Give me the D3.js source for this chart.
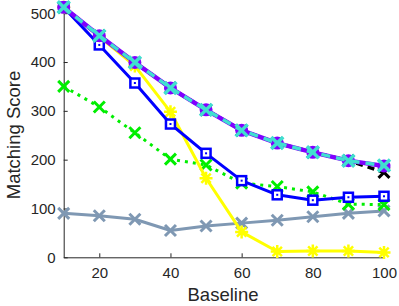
<!DOCTYPE html>
<html><head><meta charset="utf-8">
<script src="https://cdn.jsdelivr.net/npm/d3@7/dist/d3.min.js"></script>
<style>body{margin:0;background:#fff}svg{display:block}text{font-family:"Liberation Sans",Arial,sans-serif;fill:#262626}</style>
</head><body><svg id="c" width="399" height="306"></svg>
<script>
const baseline = [10,20,30,40,50,60,70,80,90,100];
const xTicks = [20,40,60,80,100];
const yTicks = [0,100,200,300,400,500];
const grayVals   = [90,85,78,55,64,70,76,83,90,95];
const greenVals  = [350,308,255,201,189,152,145,134,109,108];
const yellowVals = [512,452,392,298,162,52,12,13,13,10];
const blueVals   = [512,435,357,273,213,157,128,117,123,125];
const blackVals  = [512,454,399,347,302,260,234,215,198,174];
const purpleVals = [512,454,399,347,302,260,234,215,198,187];
const cyanVals   = [512,454,399,347,302,260,234,215,198,188];

const svg = d3.select("#c");
const x = d3.scaleLinear().domain([10,100]).range([63.7,384]);
const y = d3.scaleLinear().domain([0,525]).range([257.3,1]);

const gx = svg.append("g").attr("transform","translate(0,257.3)")
  .call(d3.axisBottom(x).tickValues(xTicks).tickSizeInner(-4).tickSizeOuter(0).tickPadding(10));
const gy = svg.append("g").attr("transform","translate(63.7,0)")
  .call(d3.axisLeft(y).tickValues(yTicks).tickSizeInner(-4).tickSizeOuter(0).tickPadding(8));
[gx,gy].forEach(g=>{
  g.select(".domain").attr("stroke","#262626").attr("stroke-width",1);
  g.selectAll(".tick line").attr("stroke","#262626");
  g.selectAll("text").style("font-size","15px").attr("fill","#262626");
});
svg.append("text").attr("x",223).attr("y",301).attr("text-anchor","middle").style("font-size","18.5px").text("Baseline");
svg.append("text").attr("transform","translate(20,135) rotate(-90)").attr("text-anchor","middle").style("font-size","18.5px").text("Matching Score");

const line = d3.line().x((d,i)=>x(baseline[i])).y(d=>y(d));
function drawLine(vals,color,w,dash){
  svg.append("path").datum(vals).attr("d",line).attr("fill","none")
    .attr("stroke",color).attr("stroke-width",w).attr("stroke-dasharray",dash||null)
    .attr("stroke-linejoin","round");
}
function xMarks(vals,color,s,w){
  const g=svg.append("g");
  vals.forEach((v,i)=>{
    const cx=x(baseline[i]), cy=y(v);
    g.append("path").attr("d",`M${cx-s},${cy-s}L${cx+s},${cy+s}M${cx-s},${cy+s}L${cx+s},${cy-s}`)
      .attr("stroke",color).attr("stroke-width",w).attr("fill","none");
  });
}
function starMarks(vals,color,s,w){
  const g=svg.append("g");
  vals.forEach((v,i)=>{
    const cx=x(baseline[i]), cy=y(v), d=s*0.72;
    g.append("path").attr("d",`M${cx-s},${cy}L${cx+s},${cy}M${cx},${cy-s}L${cx},${cy+s}M${cx-d},${cy-d}L${cx+d},${cy+d}M${cx-d},${cy+d}L${cx+d},${cy-d}`)
      .attr("stroke",color).attr("stroke-width",w).attr("fill","none");
  });
}
function squareMarks(vals,color,s,w){
  const g=svg.append("g");
  vals.forEach((v,i)=>{
    const cx=x(baseline[i]), cy=y(v);
    g.append("rect").attr("x",cx-s).attr("y",cy-s).attr("width",2*s).attr("height",2*s)
      .attr("fill","#fff").attr("stroke",color).attr("stroke-width",w);
    g.append("rect").attr("x",cx-1).attr("y",cy-1).attr("width",2).attr("height",2).attr("fill",color);
  });
}
function circleMarks(vals,color,r){
  svg.append("g").selectAll("circle").data(vals).join("circle")
    .attr("cx",(d,i)=>x(baseline[i])).attr("cy",d=>y(d)).attr("r",r).attr("fill",color);
}

const gray="#7f98b3", green="#00ee00", yellow="#ffff00", blue="#0000ff", purple="#8000ff", cyan="#40e0d0";
drawLine(grayVals,gray,3); xMarks(grayVals,gray,5.5,3);
drawLine(greenVals,green,3,"3,5"); xMarks(greenVals,green,5.5,3);
drawLine(yellowVals,yellow,3); starMarks(yellowVals,yellow,6.5,2.5);
drawLine(blueVals,blue,3); squareMarks(blueVals,blue,4.5,2.5);
drawLine(blackVals,"#000",3.5,"7,5"); xMarks(blackVals,"#000",5.5,3);
drawLine(purpleVals,purple,4.5); circleMarks(purpleVals,purple,6.5);
drawLine(cyanVals,cyan,3.5,"9,6"); xMarks(cyanVals,cyan,6,3.5);
</script></body></html>
